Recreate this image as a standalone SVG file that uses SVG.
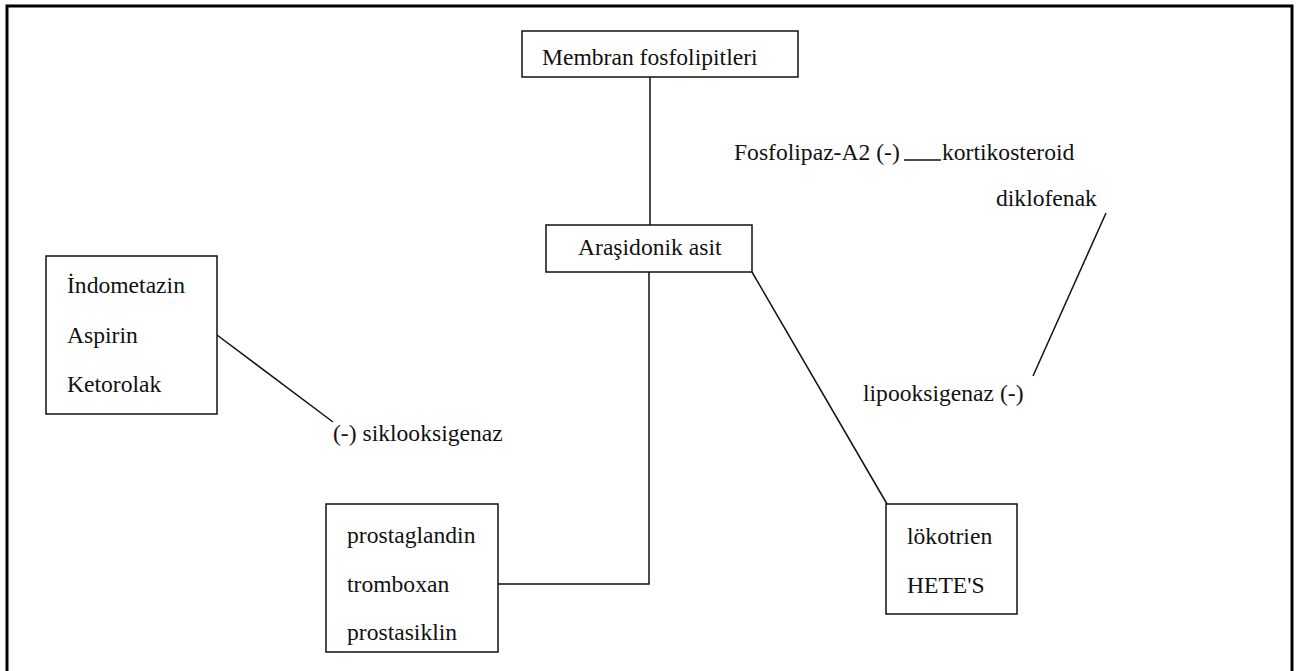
<svg xmlns="http://www.w3.org/2000/svg" width="1301" height="671" viewBox="0 0 1301 671">
<style>
.box{fill:#fff;stroke:#111;stroke-width:1.5}
.t{font-family:"Liberation Serif","Times New Roman",serif;font-size:23.6px;fill:#111}
.c{stroke:#111;stroke-width:1.5;fill:none}
</style>
<rect x="0" y="0" width="1301" height="671" fill="#fff"/>
<path d="M7,675 V6 H1292 V675" fill="none" stroke="#000" stroke-width="3"/>
<g id="connectors">
<line class="c" x1="650" y1="77" x2="650" y2="225"/>
<polyline class="c" points="649,272 649,584 498,584"/>
<line class="c" x1="752" y1="272" x2="887" y2="504"/>
<line class="c" x1="217" y1="335" x2="333" y2="422"/>
<line class="c" x1="1106" y1="213" x2="1033" y2="376"/>
<line class="c" x1="904" y1="160" x2="941" y2="160" stroke-width="1.2"/>
</g>
<g id="membran">
<rect class="box" x="522" y="31" width="276" height="46"/>
<text class="t" x="542" y="65">Membran fosfolipitleri</text>
</g>
<g id="arasidonik">
<rect class="box" x="546" y="225" width="206" height="47"/>
<text class="t" x="578" y="255">Araşidonik asit</text>
</g>
<g id="fosfolipaz">
<text class="t" x="734" y="160">Fosfolipaz-A2 (-)</text>
</g>
<g id="kortikosteroid">
<text class="t" x="942" y="160">kortikosteroid</text>
</g>
<g id="diklofenak">
<text class="t" x="996" y="206">diklofenak</text>
</g>
<g id="nsaid">
<rect class="box" x="46" y="256" width="171" height="158"/>
<text class="t" x="67" y="293">İndometazin</text>
<text class="t" x="67" y="343">Aspirin</text>
<text class="t" x="67" y="392">Ketorolak</text>
</g>
<g id="siklooksigenaz">
<text class="t" x="333" y="441">(-) siklooksigenaz</text>
</g>
<g id="lipooksigenaz">
<text class="t" x="863" y="401">lipooksigenaz (-)</text>
</g>
<g id="prostaglandin">
<rect class="box" x="326" y="504" width="172" height="148"/>
<text class="t" x="347" y="543">prostaglandin</text>
<text class="t" x="347" y="592">tromboxan</text>
<text class="t" x="347" y="640">prostasiklin</text>
</g>
<g id="lokotrien">
<rect class="box" x="886" y="504" width="131" height="110"/>
<text class="t" x="907" y="544">lökotrien</text>
<text class="t" x="907" y="593">HETE'S</text>
</g>
</svg>
